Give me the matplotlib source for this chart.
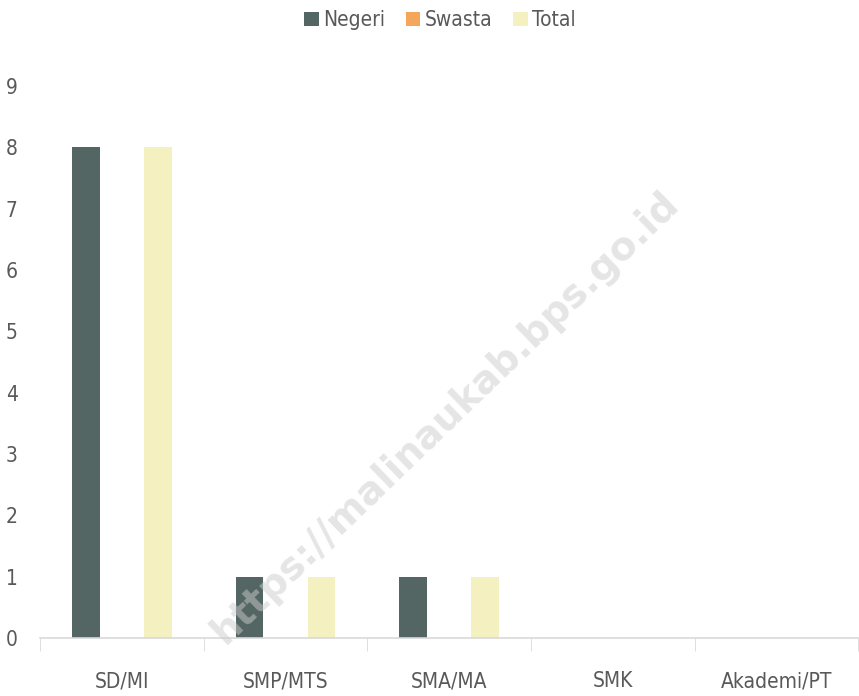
import numpy as np
import matplotlib
matplotlib.use("Agg")
import matplotlib.pyplot as plt

categories = ["SD/MI", "SMP/MTS", "SMA/MA", "SMK", "Akademi/PT"]
negeri = [8, 1, 1, 0, 0]
swasta = [0, 0, 0, 0, 0]
total = [8, 1, 1, 0, 0]

plt.rcParams["font.family"] = ["DejaVu Sans"]
plt.rcParams["font.stretch"] = "condensed"

txt = "#595959"
fig = plt.figure(figsize=(8.59, 6.96), dpi=100)
ax = fig.add_axes([0.0466, 0.0833, 0.9524, 0.7931])

x = np.arange(len(categories))
w = 0.17
ax.bar(x - 0.22, negeri, w, color="#536663", label="Negeri")
ax.bar(x, swasta, w, color="#F4A65A", label="Swasta")
ax.bar(x + 0.22, total, w, color="#F5F0C0", label="Total")

ax.set_xlim(-0.5, len(categories) - 0.5)
ax.set_ylim(0, 9)
ax.set_yticks(range(10))
ax.set_xticks(x)
ax.set_xticklabels(categories)
ax.set_xticks(np.arange(-0.5, len(categories)), minor=True)
ax.tick_params(axis="x", which="major", length=0, pad=24, labelsize=15, labelcolor=txt)
ax.tick_params(axis="x", which="minor", length=9, color="#D9D9D9", direction="out")
ax.tick_params(axis="y", length=0, pad=16, labelsize=15, labelcolor=txt)
for s in ["top", "right", "left"]:
    ax.spines[s].set_visible(False)
ax.spines["bottom"].set_color("#D9D9D9")
ax.spines["bottom"].set_linewidth(1.2)

fig.legend(loc="upper center", bbox_to_anchor=(0.512, 1.012), ncol=3, frameon=False,
           fontsize=15, handlelength=0.7, handleheight=0.7, handletextpad=0.2,
           columnspacing=1.0, labelcolor=txt)

fig.text(0.518, 0.40, "https://malinaukab.bps.go.id", rotation=44, fontsize=28,
         fontweight="bold", color="#cccccc", alpha=0.5, ha="center", va="center",
         family="DejaVu Sans", stretch="normal")

fig.savefig("out.png", dpi=100)
